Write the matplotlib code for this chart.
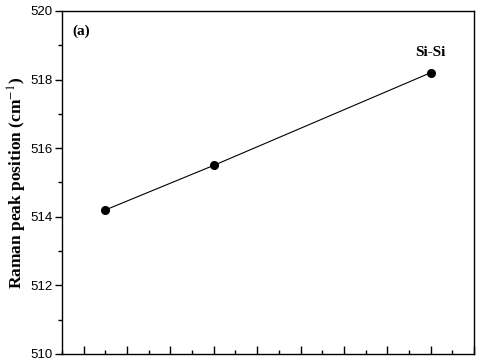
import matplotlib
matplotlib.use("Agg")
import matplotlib.pyplot as plt
from matplotlib.ticker import MultipleLocator

# values
x_pos = [1.5, 4.0, 9.0]
peak_pos = [514.2, 515.5, 518.2]
y_ticks = [510, 512, 514, 516, 518, 520]
panel_label = "(a)"
band_label = "Si-Si"

fig = plt.figure(figsize=(4.8, 3.64), dpi=100)
ax = fig.add_axes([62 / 480, 1 - 354 / 364, (474 - 62) / 480, (354 - 11) / 364])

ax.plot(x_pos, peak_pos, color="black", lw=0.8, marker="o", ms=5.5,
        mfc="black", mec="black")

ax.set_xlim(0.5, 10.0)
ax.set_ylim(510, 520)
ax.set_yticks(y_ticks)
ax.yaxis.set_minor_locator(MultipleLocator(1))
ax.xaxis.set_major_locator(MultipleLocator(1))
ax.xaxis.set_minor_locator(MultipleLocator(0.5))
ax.set_xticklabels([])

ax.tick_params(axis="x", which="major", direction="in", length=6, width=1)
ax.tick_params(axis="x", which="minor", direction="in", length=3, width=1)
ax.tick_params(axis="y", which="major", direction="out", length=5, width=1,
               labelsize=9.5, pad=2)
ax.tick_params(axis="y", which="minor", direction="out", length=3, width=1)
for lab in ax.get_yticklabels():
    lab.set_fontfamily("Liberation Sans")
for sp in ax.spines.values():
    sp.set_linewidth(1)

ax.set_ylabel("Raman peak position (cm$^{-1}$)", fontsize=12.5,
              fontweight="bold", fontfamily="Liberation Serif", labelpad=1)
ax.yaxis.label.set_math_fontfamily("stix")

ax.text(0.025, 0.94, panel_label, transform=ax.transAxes, fontsize=11,
        fontweight="bold", fontfamily="Liberation Serif", va="center")
ax.text(9.0, 518.8, band_label, fontsize=11, fontweight="bold",
        fontfamily="Liberation Serif", ha="center", va="center")

fig.savefig("out.png", dpi=100)
